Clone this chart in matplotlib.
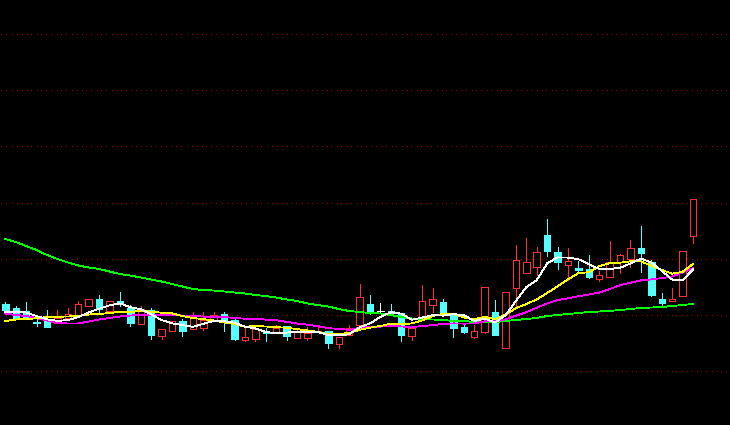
import matplotlib
matplotlib.use("Agg")
import matplotlib.pyplot as plt
from matplotlib.patches import Rectangle
import numpy as np

# ---- data (price units) ----
opens = [12.1, 11.7, 11.4, 10.3, 10.4, 10.2, 10.7, 10.9, 11.9, 12.6,
         11.4, 12.4, 11.7, 10.1, 11.5, 8.9, 9.4, 10.4, 9.6, 9.7,
         10.5, 11.1, 10.5, 8.5, 8.6, 9.4, 9.3, 9.9, 8.7, 8.7,
         9.3, 9.4, 8.1, 9.0, 10.0, 12.1, 11.4, 11.4, 11.2, 8.9,
         10.6, 12.0, 12.3, 11.0, 9.8, 8.8, 9.3, 11.3, 7.7, 13.7,
         15.2, 15.8, 19.0, 17.3, 16.0, 15.7, 15.6, 14.6, 14.8, 16.3,
         16.6, 17.7, 16.3, 12.6, 12.4, 12.9, 18.9]
closes = [11.5, 10.7, 10.6, 10.25, 9.8, 10.7, 11.1, 12.1, 12.6, 11.6,
          12.4, 12.1, 10.2, 11.6, 9.0, 9.6, 10.4, 9.4, 10.7, 10.5,
          11.0, 10.3, 8.6, 8.8, 9.6, 9.2, 9.7, 8.9, 9.3, 9.2,
          9.4, 8.2, 8.8, 9.7, 12.8, 11.3, 11.4, 11.2, 9.0, 9.7,
          12.4, 12.6, 11.0, 9.7, 9.3, 9.4, 13.8, 9.0, 13.3, 16.5,
          16.3, 17.3, 17.4, 16.3, 16.4, 15.5, 14.8, 15.0, 16.3, 17.0,
          17.7, 17.2, 13.0, 12.2, 12.6, 17.4, 22.6]
highs = [12.3, 11.9, 12.3, 10.7, 11.5, 11.5, 11.7, 12.4, 12.6, 13.0,
         12.4, 13.3, 12.0, 11.9, 11.7, 9.6, 10.4, 10.6, 11.3, 11.3,
         11.3, 11.3, 10.6, 9.7, 9.6, 9.7, 10.0, 9.9, 9.7, 9.8,
         9.8, 9.4, 8.8, 10.0, 14.1, 13.0, 12.2, 12.1, 11.2, 9.7,
         14.0, 13.7, 12.6, 11.0, 10.2, 10.0, 13.8, 12.5, 13.3, 18.0,
         18.7, 17.8, 20.6, 17.8, 17.7, 16.4, 17.0, 15.4, 18.4, 17.1,
         18.5, 19.9, 16.5, 13.2, 13.7, 17.4, 22.6]
lows = [11.2, 10.6, 10.6, 9.9, 9.8, 10.2, 10.7, 10.9, 11.9, 11.2,
        11.3, 11.9, 9.9, 10.1, 8.6, 8.6, 9.4, 8.9, 9.6, 9.5,
        10.5, 9.4, 8.5, 8.4, 8.4, 8.4, 9.3, 8.5, 8.7, 8.5,
        9.3, 7.7, 7.7, 9.0, 10.0, 11.1, 11.2, 11.1, 8.4, 8.5,
        10.6, 11.3, 11.0, 8.8, 9.2, 8.7, 9.2, 9.0, 7.7, 11.8,
        15.2, 15.0, 16.9, 15.6, 14.5, 15.2, 14.7, 14.4, 14.8, 15.2,
        15.8, 15.3, 12.9, 11.8, 12.4, 12.9, 18.2]

ma5 = [11.33, 11.33, 11.25, 10.9, 10.57, 10.41, 10.49, 10.79, 11.26, 11.62,
       11.96, 12.16, 11.78, 11.58, 11.06, 10.50, 10.16, 10.00, 9.82, 10.12,
       10.40, 10.38, 10.22, 9.84, 9.66, 9.30, 9.18, 9.24, 9.34, 9.26,
       9.30, 9.00, 8.98, 9.06, 9.78, 10.16, 10.80, 11.28, 11.14, 10.52,
       10.74, 10.98, 10.94, 11.08, 11.00, 10.40, 10.64, 10.24, 10.96, 12.40,
       13.78, 14.48, 16.16, 16.76, 16.74, 16.58, 16.08, 15.60, 15.60, 15.72,
       16.16, 16.64, 16.24, 15.42, 14.54, 14.48, 15.56]
ma10 = [10.40, 10.55, 10.60, 10.67, 10.80, 10.83, 10.85, 10.90, 11.05, 11.10,
        11.19, 11.33, 11.29, 11.42, 11.34, 11.23, 11.16, 10.89, 10.70, 10.59,
        10.45, 10.27, 10.11, 9.83, 9.89, 9.85, 9.78, 9.73, 9.59, 9.46,
        9.30, 9.09, 9.11, 9.20, 9.52, 9.73, 9.90, 10.13, 10.10, 10.15,
        10.45, 10.89, 11.11, 11.11, 10.76, 10.57, 10.81, 10.59, 11.02, 11.70,
        12.09, 12.56, 13.20, 13.86, 14.57, 15.18, 15.28, 15.88, 16.18, 16.23,
        16.37, 16.36, 15.92, 15.51, 15.13, 15.32, 16.10]
ma20 = [11.15, 11.00, 10.90, 10.70, 10.45, 10.20, 10.15, 10.15, 10.35, 10.55,
        10.70, 10.85, 10.95, 11.00, 11.00, 11.00, 11.00, 10.95, 10.90, 10.84,
        10.82, 10.80, 10.70, 10.63, 10.62, 10.54, 10.47, 10.31, 10.15, 10.03,
        9.88, 9.68, 9.61, 9.52, 9.71, 9.79, 9.84, 9.93, 9.85, 9.81,
        9.88, 9.99, 10.11, 10.16, 10.14, 10.15, 10.36, 10.36, 10.56, 10.93,
        11.27, 11.73, 12.16, 12.49, 12.67, 12.88, 13.05, 13.24, 13.60, 13.97,
        14.23, 14.46, 14.56, 14.69, 14.85, 15.25, 15.69]
ma60 = [18.6, 18.3, 17.9, 17.5, 17.0, 16.6, 16.25, 15.95, 15.75, 15.6,
        15.35, 15.1, 14.95, 14.75, 14.55, 14.35, 14.1, 13.85, 13.6, 13.5,
        13.45, 13.35, 13.25, 13.15, 13.0, 12.9, 12.75, 12.55, 12.4, 12.15,
        12.0, 11.85, 11.6, 11.4, 11.3, 11.2, 11.15, 11.0, 10.8, 10.65,
        10.6, 10.55, 10.5, 10.4, 10.4, 10.3, 10.3, 10.3, 10.4, 10.5,
        10.6, 10.7, 10.9, 11.0, 11.1, 11.2, 11.3, 11.35, 11.4, 11.5,
        11.6, 11.7, 11.75, 11.8, 11.9, 12.0, 12.1]

grid_levels = [5.35, 10.95, 16.55, 22.15, 27.85, 33.45, 39.05]

# ---- style ----
UP = '#ff3232'
DOWN = '#54ffff'
FLAT = '#ffffff'
PX = 0.72  # one pixel in points at dpi 100
XMIN, XMAX = -0.51, 69.55

fig = plt.figure(figsize=(7.3, 4.25), dpi=100, facecolor='black')
ax = fig.add_axes([0, 0, 1, 1])
ax.set_facecolor('black')
ax.set_xlim(XMIN, XMAX)
ax.set_ylim(0, 42.5)
ax.axis('off')

# dotted grid: single-pixel dots every 5 px
dot_step = (XMAX - XMIN) / 730 * 5
dot_x = np.arange(XMIN + dot_step * 0.3, XMAX, dot_step)
for g in grid_levels:
    ax.plot(dot_x, np.full(len(dot_x), g), ls='none', marker=',',
            color='#a80000', zorder=1)

w = 0.62
for i, (o, c, h, l) in enumerate(zip(opens, closes, highs, lows)):
    if c > o:
        ax.vlines(i, c, h, color=UP, lw=PX, zorder=2, antialiased=False)
        ax.vlines(i, l, o, color=UP, lw=PX, zorder=2, antialiased=False)
        ax.add_patch(Rectangle((i - w / 2, o), w, c - o, facecolor='black',
                               edgecolor=UP, lw=PX, zorder=2,
                               antialiased=False))
    elif c < o:
        ax.vlines(i, l, h, color=DOWN, lw=PX, zorder=2, antialiased=False)
        ax.add_patch(Rectangle((i - w / 2, c), w, o - c, facecolor=DOWN,
                               edgecolor=DOWN, lw=PX, zorder=2,
                               antialiased=False))
    else:
        ax.vlines(i, l, h, color=FLAT, lw=PX, zorder=2, antialiased=False)
        ax.hlines(o, i - w / 2, i + w / 2, color=FLAT, lw=PX, zorder=2,
                  antialiased=False)

x = list(range(len(closes)))
LW = 0.6
ax.plot(x, ma60, color='#00ff00', lw=LW, zorder=3, antialiased=False)
ax.plot(x, ma20, color='#ff00ff', lw=LW, zorder=3, antialiased=False)
ax.plot(x, ma10, color='#ffff00', lw=LW, zorder=3, antialiased=False)
ax.plot(x, ma5, color='#ffffff', lw=LW, zorder=3, antialiased=False)

fig.savefig('out.png', dpi=100, facecolor='black')
